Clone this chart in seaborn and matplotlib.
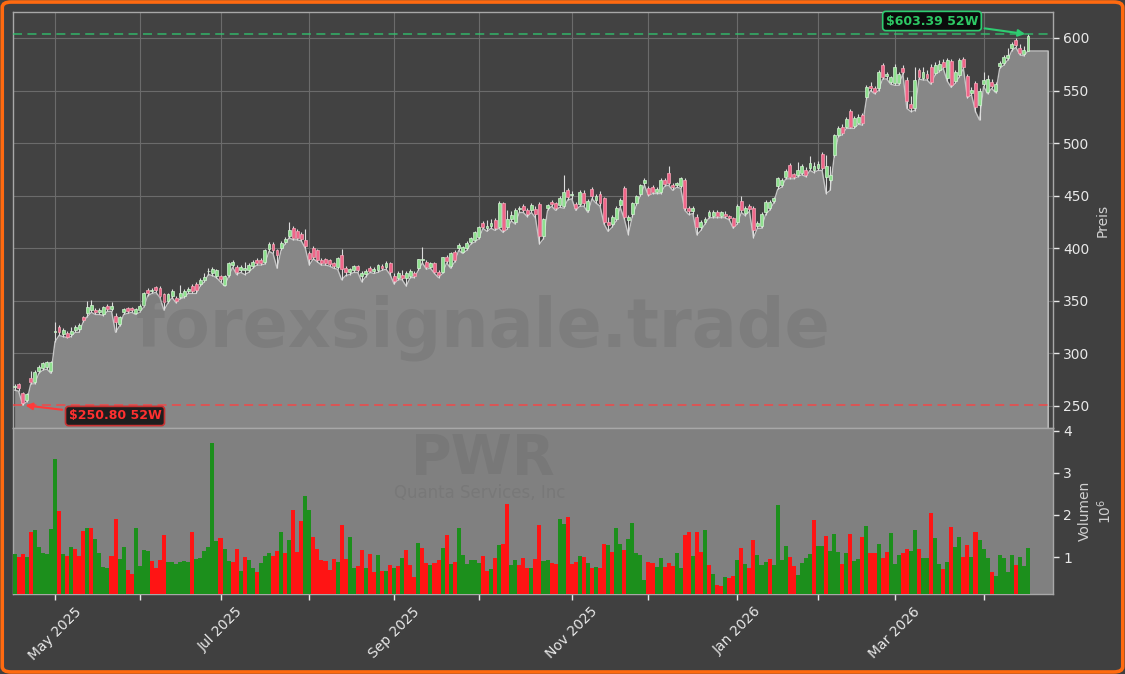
import numpy as np
import pandas as pd
import matplotlib
matplotlib.use("Agg")
import matplotlib.pyplot as plt
import seaborn as sns
from matplotlib.patches import FancyBboxPatch

# ---------------- data ----------------
start_date = "2025-04-16"
end_date = "2026-04-17"
market_holidays = ["2025-04-18", "2025-05-26", "2025-06-19", "2025-07-04", "2025-09-01",
                   "2025-11-27", "2025-12-25", "2026-01-01", "2026-01-19", "2026-02-16",
                   "2026-04-03"]

opens = [268, 271, 262, 256, 277, 273, 283, 286, 287, 283,
         320, 325, 318, 319, 318, 322, 323, 335, 338, 341,
         341, 339, 337, 345, 342, 336, 328, 339, 343, 343,
         338, 341, 346, 360, 359, 363, 362, 356, 350, 355,
         353, 354, 355, 359, 364, 366, 366, 370, 378, 376,
         374, 374, 365, 375, 384, 382, 379, 379, 379, 383,
         389, 389, 387, 399, 404, 398, 400, 406, 412, 419,
         416, 414, 408, 395, 400, 398, 389, 389.5, 389, 385.7,
         382, 393.7, 381, 377, 379, 383, 374, 375.6, 381.6, 378,
         379, 383, 382, 385.7, 374, 372, 375, 372, 374, 376,
         381, 389, 387.3, 382.6, 385.7, 377.8, 377.8, 392, 383, 396.8,
         400, 396.8, 400, 406, 408, 411, 424.4, 419, 421, 427,
         420.6, 442.8, 420, 428, 425, 437, 440.3, 436.4, 436.4, 437,
         442, 411.7, 438.7, 444, 442.8, 441, 440, 455.5, 450.5, 442,
         442, 453, 436.4, 456, 446, 452, 447.5, 425, 423, 428,
         441, 457, 427, 432.6, 442.8, 452, 462.4, 457, 458, 453.9,
         453.9, 465, 472, 460, 460, 459, 465, 438, 435, 430,
         420, 425, 431, 431, 434, 431, 433, 430.7, 428.5, 425.3,
         445.3, 433.3, 440, 438, 421, 421, 434, 438, 445, 459,
         460, 468, 479, 470.6, 470, 472, 474, 476, 474, 476,
         490, 468, 465, 488.7, 507.7, 515.7, 515.7, 530.5, 516, 519.5,
         526.8, 544, 554, 552, 552, 574.3, 564, 558.5, 557.5, 557,
         571.8, 560, 537, 533, 569.6, 562, 566, 572.7, 567, 570,
         577.5, 561.6, 578.4, 559.4, 564.8, 579.7, 563.8, 548, 557.5, 536.3,
         556.2, 549, 558.5, 550, 573.3, 575.9, 581, 590.2, 598, 590,
         585, 588]

highs = [271, 272, 263, 262, 283, 284, 289, 292, 293, 293,
         330, 327, 324, 321, 325, 327, 329, 336, 350, 351,
         343, 343, 345, 347, 349, 338, 336, 343, 344, 344,
         343, 347, 358, 362, 362, 364, 364, 357, 357, 361,
         355, 365, 361, 363, 366, 368, 372, 376, 381, 382,
         380, 375, 375, 387, 389, 384, 384, 387, 386, 389,
         391, 391, 399, 406, 406, 399, 407, 411, 425, 421,
         418, 415, 418, 397, 402, 399, 391, 391, 390, 387,
         392, 399, 383, 381, 384, 384, 378, 380, 383, 382,
         385, 385, 388, 387, 376, 378, 379, 378, 380, 378,
         390, 401, 389, 387, 387, 379, 392, 394, 396, 398,
         405, 402, 407, 411, 416, 421, 426, 427, 428, 429,
         445, 444, 436, 435, 438, 440, 442, 438, 443, 440,
         444, 429, 442, 446, 444, 450, 470, 457, 454, 444,
         455, 455, 447, 458, 452, 454, 449, 430, 432, 440,
         448, 459, 432, 444, 451, 461, 467, 459, 460, 458,
         467, 467, 478, 462, 463, 468, 467, 440, 440, 433,
         427, 430, 436, 436, 436, 435, 435, 432, 430, 442,
         450, 440, 442, 440, 426, 434, 446, 446, 449, 468,
         467, 475, 481, 472, 482, 480, 477, 488, 482, 483,
         492, 489, 478, 509, 516, 518, 525, 532, 526, 528,
         529, 555, 558, 554, 570, 576, 568, 564, 575, 568,
         574, 563, 545, 572, 571, 572, 570, 575, 577, 579,
         580, 581, 580, 570, 581, 582, 566, 553, 559, 552,
         568, 565, 561, 558, 578, 584, 590, 596, 600, 594,
         592, 603.39]

lows = [265, 264, 250.8, 254, 271, 271, 281, 284, 285, 281,
        311, 317, 316, 315, 316, 320, 320, 330, 335, 339,
        337, 337, 336, 340, 340, 320, 326, 337, 338, 339,
        337, 339, 344, 355, 357, 358, 353, 341, 348, 353,
        348, 352, 353, 357, 357, 357, 364, 368, 375, 374,
        372, 368, 364, 373, 382, 375, 377, 375, 377, 381,
        384, 384, 385, 397, 395, 381, 398, 404, 410, 408,
        408, 407, 400, 384, 390, 387, 384, 384, 383, 381,
        380, 370, 374, 375, 377, 377, 368, 373, 377, 376,
        377, 379, 380, 375, 366, 370, 370, 364, 372, 372,
        379, 386, 380, 381, 376, 372, 376, 386, 381, 387,
        398, 395, 398, 404, 406, 409, 419, 416, 419, 417,
        419, 415, 418, 426, 423, 434, 434, 430, 434, 429,
        404, 409, 436, 440, 436, 439, 438, 446, 447, 436,
        440, 440, 434, 447, 443, 440, 423, 416, 420, 426,
        439, 428, 413, 430, 441, 450, 460, 450, 452, 452,
        452, 459, 460, 455, 458, 457, 436, 432, 433, 412.7,
        417, 423, 429, 429, 429, 429, 429, 427, 419, 423,
        434, 431, 435, 410, 419, 419, 432, 436, 443, 456,
        458, 466, 466, 466, 468, 470, 468, 474, 472, 474,
        474, 452, 455, 487, 506, 508, 514, 514, 514, 518,
        517, 542, 550, 547, 550, 561, 561, 556, 555, 555,
        566, 533, 530, 531, 561, 560, 560, 556, 565, 568,
        571, 559, 553, 557, 563, 571, 543, 546, 530, 522,
        554, 547, 552, 548, 571, 574, 579, 588, 591, 584,
        583, 587.6]

closes = [268.5, 267, 253, 261, 273, 282, 287, 291, 292, 292,
          321, 320, 322, 316, 321, 325, 327, 332, 344, 346,
          339, 341, 344, 342, 345, 330, 335, 342, 340, 341,
          342, 345, 357, 357, 359.5, 360, 355, 349, 356, 359,
          350, 357, 359, 361, 359, 360, 370, 373, 378.5, 380,
          379, 371, 374, 386, 387, 377, 382, 381, 384, 387,
          386, 386, 398, 404, 398, 394, 405, 409, 417, 410,
          410, 409, 402, 390, 392, 389, 386, 385.7, 385, 383,
          391, 380, 377, 380, 383, 379, 376, 378.8, 378.8, 380,
          384, 381, 386, 377, 369, 376, 372, 376, 378, 374,
          389.5, 389.5, 381.9, 385.7, 377.8, 374.6, 391.4, 388, 395, 388.9,
          403, 400.9, 405.4, 409.5, 415, 420, 420.6, 421, 424, 419,
          442.8, 417.4, 428, 432, 436, 437.5, 436.4, 432.6, 441.2, 433,
          411.7, 427.5, 441, 441.8, 438.7, 448, 453.9, 448.5, 451, 438,
          453.9, 442.8, 445, 449.7, 450, 443, 425, 422, 430, 438,
          446, 429.5, 430, 442.8, 449.7, 460, 465, 452, 453.9, 456,
          465, 461, 461.8, 458, 462, 466.5, 438, 435, 438, 420,
          425, 428, 434.8, 434, 431, 434, 431, 428.5, 421, 440,
          436.4, 438.7, 437, 417.4, 423.7, 432.6, 444.3, 444.3, 447.5, 466.5,
          465, 473, 468, 468, 474, 478, 470, 481, 478, 480,
          476, 478, 470, 507.7, 514, 509.3, 522.6, 515.7, 523.6, 525,
          518.8, 553.7, 552, 549, 568, 563, 566, 562.6, 572.7, 566,
          568, 540, 533, 560, 563, 568, 562, 558.5, 574.3, 575,
          572.7, 579, 555.3, 568, 579, 572.7, 544.8, 550.5, 534, 550,
          560, 560.7, 554.3, 556, 576.5, 582, 584, 594.3, 593.3, 586,
          589, 602]

volume_millions = [1.07, 1.00, 1.07, 1.00, 1.60, 1.64, 1.25, 1.10, 1.07, 1.67,
                   3.33, 2.10, 1.07, 1.02, 1.25, 1.19, 1.02, 1.63, 1.68, 1.68,
                   1.43, 1.09, 0.77, 0.73, 1.02, 1.91, 0.95, 1.25, 0.69, 0.60,
                   1.68, 0.79, 1.17, 1.14, 0.91, 0.75, 0.93, 1.52, 0.87, 0.87,
                   0.83, 0.87, 0.90, 0.87, 1.60, 0.96, 0.98, 1.15, 1.25, 3.72,
                   1.38, 1.46, 1.19, 0.90, 0.87, 1.19, 0.67, 1.00, 0.93, 0.75,
                   0.64, 0.85, 1.02, 1.09, 1.02, 1.14, 1.60, 1.09, 1.40, 2.12,
                   1.12, 1.86, 2.45, 2.12, 1.48, 1.20, 0.94, 0.90, 0.69, 0.95,
                   0.87, 1.76, 0.95, 1.48, 0.75, 0.79, 1.17, 0.75, 1.07, 0.64,
                   1.05, 0.67, 0.67, 0.81, 0.73, 0.79, 0.98, 1.17, 0.81, 0.53,
                   1.33, 1.22, 0.85, 0.81, 0.86, 0.93, 1.21, 1.52, 0.83, 0.87,
                   1.69, 1.05, 0.83, 0.94, 0.93, 0.86, 1.02, 0.67, 0.71, 0.98,
                   1.29, 1.31, 2.26, 0.81, 0.93, 0.81, 0.98, 0.75, 0.75, 0.95,
                   1.76, 0.91, 0.93, 0.85, 0.83, 1.91, 1.79, 1.95, 0.83, 0.88,
                   1.02, 1.00, 0.85, 0.75, 0.76, 0.75, 1.31, 1.29, 1.12, 1.69,
                   1.31, 1.17, 1.43, 1.81, 1.09, 1.05, 0.45, 0.88, 0.85, 0.76,
                   0.98, 0.76, 0.85, 0.79, 1.10, 0.75, 1.52, 1.60, 1.02, 1.60,
                   1.12, 1.64, 0.81, 0.60, 0.33, 0.30, 0.52, 0.50, 0.55, 0.93,
                   1.21, 0.83, 0.75, 1.40, 1.05, 0.80, 0.88, 0.95, 0.81, 2.24,
                   0.93, 1.26, 1.00, 0.79, 0.57, 0.86, 0.98, 1.07, 1.87, 1.26,
                   1.26, 1.50, 1.14, 1.55, 1.12, 0.83, 1.10, 1.55, 0.90, 0.95,
                   1.48, 1.74, 1.10, 1.10, 1.31, 0.98, 1.12, 1.57, 0.83, 1.05,
                   1.10, 1.19, 1.14, 1.64, 1.19, 0.98, 0.98, 2.05, 1.45, 0.83,
                   0.71, 0.88, 1.71, 1.24, 1.48, 1.00, 1.29, 1.00, 1.60, 1.40,
                   1.19, 0.98, 0.64, 0.55, 1.05, 0.98, 0.64, 1.05, 0.81, 1.00,
                   0.79, 1.21]

# g = rising-volume bar (green), r = falling (red), one letter per trading day
volume_direction_rows = ["grrgrggggg", "grgrgrrrgr", "ggggrrggrr", "ggggrrrrgg",
                         "ggggrggggg", "grggrrgrgg", "rgggrrgrgr", "rrggrrrrrr",
                         "grrggrrgrr", "grgrgrgrrr", "grrgrrgrgr", "ggggggrrgr",
                         "grrggrrrgr", "rggrrggrrr", "grgrgrrgrg", "grgggggrrg",
                         "grrrggrrgr", "rgrgrrgrrg", "rgrrgggrgg", "ggrrggggrg",
                         "grgggrgrgg", "rgrrgrrggg", "rrggrggrgg", "rgrggrrgrg",
                         "ggrgggggrg", "gg"]

ticker = "PWR"
company = "Quanta Services, Inc"
watermark = "forexsignale.trade"
high_52w = 603.39
low_52w = 250.80

# ---------------- derived ----------------
dates = pd.bdate_range(start_date, end_date).drop(pd.to_datetime(market_holidays))
n = len(dates)
idx = np.arange(n)
o = np.array(opens, float); h = np.array(highs, float)
l = np.array(lows, float); c = np.array(closes, float)
vol = np.array(volume_millions, float)
vdir = list("".join(volume_direction_rows))
vdir = (vdir + ["g"] * n)[:n]

df_vol = pd.DataFrame({"i": idx, "v": vol, "d": vdir})

# ---------------- style ----------------
sns.set_theme(style="dark")
plt.rcParams["font.family"] = ["DejaVu Sans"]
FIG_BG = "#404040"
AX_BG = "#424242"
TXT = "#e8e8e8"

fig = plt.figure(figsize=(11.25, 6.74), dpi=100, facecolor=FIG_BG)
W, H = 1125, 674
ax = fig.add_axes([13 / W, 1 - 428 / H, 1040 / W, 416 / H])
axv = fig.add_axes([13 / W, 1 - 594 / H, 1040 / W, 166 / H], sharex=ax)

ax.set_facecolor(AX_BG)
axv.set_facecolor("#808080")

# price area (under lows), extended flat at the end
fx = np.append(idx, n + 4).astype(float)
fy = np.append(l, l[-1])
ax.fill_between(fx, fy, 0, color="#878787", lw=0, zorder=2)
sns.lineplot(x=np.append(fx, n + 4), y=np.append(fy, 0), ax=ax, color="#c4c4c4",
             lw=1.0, zorder=2.5, sort=False, estimator=None)

# candles
up = c >= o
body_lo = np.minimum(o, c)
body_h = np.maximum(np.abs(c - o), 0.8)
ax.vlines(idx, l, h, color="#dcdcdc", lw=0.8, zorder=3)
ax.bar(idx, body_h, bottom=body_lo, width=0.72,
       color=np.where(up, "#8fe08f", "#f0668a"),
       edgecolor=np.where(up, "#d4f4d4", "#f7a8b8"), lw=0.5, zorder=4)

# 52w lines
ax.axhline(high_52w, color="#2ecc71", ls=(0, (5, 3)), lw=1.3, alpha=0.7, zorder=5)
ax.axhline(low_52w, color="#ff4040", ls=(0, (5, 3)), lw=1.3, alpha=0.75, zorder=5)

ax.annotate(f"${high_52w:.2f} 52W", xy=(n - 1, high_52w), xytext=(932, 653),
            textcoords="figure pixels", ha="center", va="center",
            fontsize=9, fontweight="bold", color="#2dc864", zorder=10,
            bbox=dict(boxstyle="round,pad=0.25", fc="#0b0b0b", ec="#2ecc71", lw=1.2),
            arrowprops=dict(arrowstyle="-|>", color="#2ecc71", lw=1.5, mutation_scale=10))
ax.annotate(f"${low_52w:.2f} 52W", xy=(int(np.argmin(l)), low_52w), xytext=(115, 258),
            textcoords="figure pixels", ha="center", va="center",
            fontsize=9, fontweight="bold", color="#ff3030", zorder=10,
            bbox=dict(boxstyle="round,pad=0.25", fc="#1e1e1e", ec="#c83232", lw=1.2),
            arrowprops=dict(arrowstyle="-|>", color="#ff3a3a", lw=1.5, mutation_scale=10))

# volume bars
sns.barplot(data=df_vol, x="i", y="v", hue="d", palette={"g": "#1c8f1c", "r": "#ff1414"},
            native_scale=True, dodge=False, width=1.0, legend=False, saturation=1,
            linewidth=0, ax=axv, zorder=3)

# axes setup
ax.set_xlim(-0.4, n + 5.2)
ax.set_ylim(229, 624.7)
axv.set_ylim(0.12, 4.07)

month_start = [i for i in range(1, n) if dates[i].month != dates[i - 1].month]
axv.set_xticks(month_start)
axv.set_xticklabels([dates[i].strftime("%b %Y") if dates[i].month % 2 == 1 else ""
                     for i in month_start], rotation=45, ha="center")
ax.tick_params(axis="x", length=0, labelbottom=False)

for a in (ax, axv):
    a.yaxis.tick_right()
    a.yaxis.set_label_position("right")
    a.tick_params(colors=TXT, labelsize=10, length=4, width=1, direction="out")
    for s in a.spines.values():
        s.set_color("#a8a8a8")
        s.set_linewidth(1.0)
        s.set_visible(True)
    a.set_xlabel("")

ax.set_yticks([250, 300, 350, 400, 450, 500, 550, 600])
axv.set_yticks([1, 2, 3, 4])
ax.tick_params(axis="y", left=False, right=True)
axv.tick_params(axis="y", left=False, right=True)
axv.tick_params(axis="x", bottom=True, length=4, colors=TXT)

ax.grid(True, color="#6b6b6b", lw=0.8)
ax.set_axisbelow(True)
axv.grid(False)

ax.set_ylabel("Preis", color="#d0d0d0", fontsize=10)
axv.set_ylabel("Volumen\n$10^{6}$", color="#d0d0d0", fontsize=10)

# watermarks
fig.text(483 / W, 1 - 328 / H, watermark, fontsize=48, fontweight="bold",
         color="#1a1a1a", alpha=0.09, ha="center", va="center", zorder=0)
fig.text(483 / W, 1 - 459 / H, ticker, fontsize=40, fontweight="bold",
         color="#1a1a1a", alpha=0.08, ha="center", va="center", zorder=0)
fig.text(480 / W, 1 - 493 / H, company, fontsize=12,
         color="#1a1a1a", alpha=0.08, ha="center", va="center", zorder=0)

# orange frame
fig.patches.append(FancyBboxPatch((0.002, 0.003), 0.996, 0.994,
                                  boxstyle="round,pad=0,rounding_size=0.008",
                                  transform=fig.transFigure, fill=False,
                                  ec="#ff6a10", lw=2.6, zorder=20))

fig.savefig("out.png", dpi=100, facecolor=FIG_BG)
